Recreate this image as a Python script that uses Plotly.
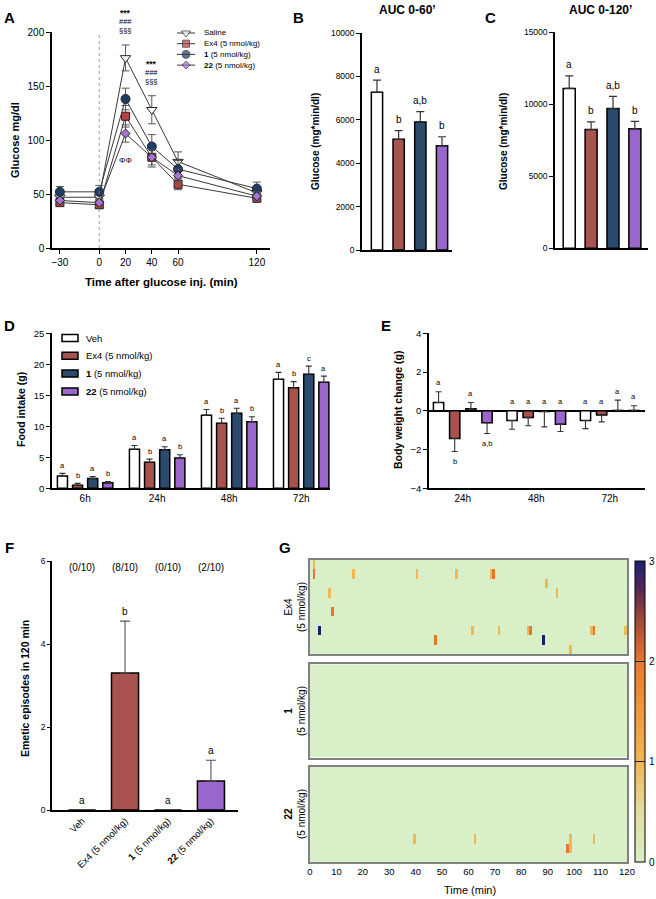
import plotly.graph_objects as go

W, H = 656, 899
def px(x): return x / W
def py(y): return 1 - y / H

FONT = "Liberation Sans, Arial, sans-serif"

# ---------------- Panel A: glucose tolerance ----------------
time_min = [-30, 0, 20, 40, 60, 120]
glu_saline = [47, 47, 176, 128, 80, 51]
glu_saline_err = [4, 4, 12, 13, 9, 5]
glu_ex4 = [42, 40, 122, 84, 59, 46]
glu_ex4_err = [3, 3, 10, 9, 5, 3]
glu_c1 = [52, 52, 138, 94, 73, 55]
glu_c1_err = [5, 6, 10, 11, 8, 6]
glu_c22 = [44, 42, 106, 84, 67, 48]
glu_c22_err = [3, 3, 8, 7, 6, 4]

# ---------------- Panels B, C: AUC ----------------
auc60 = [7270, 5100, 5900, 4800]
auc60_err = [560, 400, 480, 420]
auc120 = [11100, 8250, 9700, 8300]
auc120_err = [870, 530, 850, 520]
auc_letters = ["a", "b", "a,b", "b"]

# ---------------- Panel D: food intake ----------------
food_times = ["6h", "24h", "48h", "72h"]
food_veh = [2.0, 6.3, 11.8, 17.6]
food_veh_err = [0.4, 0.6, 0.9, 1.1]
food_ex4 = [0.5, 4.2, 10.5, 16.2]
food_ex4_err = [0.3, 0.5, 0.8, 1.0]
food_c1 = [1.6, 6.2, 12.1, 18.4]
food_c1_err = [0.3, 0.5, 0.8, 1.3]
food_c22 = [0.9, 4.9, 10.75, 17.1]
food_c22_err = [0.2, 0.5, 0.8, 1.0]
food_letters = [["a", "a", "a", "a"], ["b", "b", "b", "b"],
                ["a", "a", "a", "c"], ["b", "b", "b", "a"]]

# ---------------- Panel E: body weight change ----------------
bw_times = ["24h", "48h", "72h"]
bw_veh = [0.43, -0.5, -0.5]
bw_veh_err = [0.55, 0.45, 0.42]
bw_ex4 = [-1.43, -0.35, -0.22]
bw_ex4_err = [0.67, 0.42, 0.35]
bw_c1 = [0.1, -0.03, 0.02]
bw_c1_err = [0.33, 0.8, 0.53]
bw_c22 = [-0.62, -0.7, 0.02]
bw_c22_err = [0.55, 0.37, 0.24]
bw_letters = [["a", "a", "a"], ["b", "a", "a"], ["a", "a", "a"], ["a,b", "a", "a"]]
bw_letter_below = [[False, False, False], [True, False, False],
                   [False, False, False], [True, False, False]]

# ---------------- Panel F: emesis ----------------
emesis_labels = ["Veh", "Ex4 (5 nmol/kg)", "<b>1</b> (5 nmol/kg)", "<b>22</b> (5 nmol/kg)"]
emesis = [0, 3.3, 0, 0.7]
emesis_err = [0, 1.25, 0, 0.5]
emesis_resp = ["(0/10)", "(8/10)", "(0/10)", "(2/10)"]
emesis_letters = ["a", "b", "a", "a"]

# ---------------- Panel G: emetic episodes heatmap ----------------
n_animals = 10
n_minutes = 120
# (animal row, minute, episodes)
ex4_events = [(0, 1, 1), (1, 1, 2), (1, 16, 1), (1, 40, 1), (1, 55, 1), (1, 68, 1), (1, 69, 2),
              (2, 89, 1), (3, 7, 1), (3, 93, 1), (5, 8, 2),
              (7, 3, 3), (7, 61, 1), (7, 71, 1), (7, 82, 1), (7, 83, 2), (7, 106, 1), (7, 107, 2),
              (7, 119, 1), (8, 47, 2), (8, 88, 3), (9, 98, 1)]
c1_events = []
c22_events = [(7, 39, 1), (7, 62, 1), (7, 98, 1), (7, 107, 1), (8, 97, 2), (8, 98, 1)]
cbar_ticks = [0, 1, 2, 3]

group_names = ["Saline", "Ex4 (5 nmol/kg)", "<b>1</b> (5 nmol/kg)", "<b>22</b> (5 nmol/kg)"]
veh_names = ["Veh", "Ex4 (5 nmol/kg)", "<b>1</b> (5 nmol/kg)", "<b>22</b> (5 nmol/kg)"]
COL = ["#ffffff", "#a8534f", "#2b4b6e", "#9a66cc"]
ACOL = ["#ffffff", "#b5443f", "#1f3c66", "#a773d6"]

fig = go.Figure()

def axis(**kw):
    d = dict(showline=True, linecolor="black", linewidth=1.5, ticks="outside", ticklen=4,
             tickwidth=1.2, tickcolor="black", showgrid=False, zeroline=False, automargin=False,
             tickfont=dict(size=10, color="black", family=FONT), fixedrange=True)
    d.update(kw)
    return d

annotations = []
def note(text, x, y, xref="paper", yref="paper", size=10, bold=False, angle=0, yshift=0,
         xanchor="center", yanchor="middle"):
    annotations.append(dict(text=f"<b>{text}</b>" if bold else text, x=x, y=y, xref=xref, yref=yref,
                            showarrow=False, textangle=angle, yshift=yshift,
                            xanchor=xanchor, yanchor=yanchor,
                            font=dict(size=size, family=FONT, color="black")))

shapes = []

# ---- A traces
a_series = [(glu_saline, glu_saline_err, "triangle-down", 9),
            (glu_ex4, glu_ex4_err, "square", 8),
            (glu_c1, glu_c1_err, "circle", 9),
            (glu_c22, glu_c22_err, "diamond", 7)]
for i, (vals, errs, sym, sz) in enumerate(a_series):
    fig.add_trace(go.Scatter(
        x=time_min, y=vals, name=group_names[i], mode="lines+markers", showlegend=False,
        line=dict(color="#3a3a3a", width=1),
        marker=dict(symbol=sym, size=sz, color=ACOL[i], line=dict(color="#222", width=1)),
        error_y=dict(type="data", array=errs, color="#555", thickness=1, width=4),
        xaxis="x", yaxis="y"))
    # legend glyph (hidden pixel-space axis)
    ly = 33 + 10.7 * i
    fig.add_trace(go.Scatter(
        x=[177, 186, 195], y=[ly, ly, ly], mode="lines+markers", showlegend=False,
        line=dict(color="#3a3a3a", width=1), hoverinfo="skip",
        marker=dict(symbol=sym, size=[0, sz - 1, 0], color=ACOL[i], line=dict(color="#222", width=1)),
        xaxis="x10", yaxis="y10"))
    note(group_names[i], 202, ly, size=8, xanchor="left")

# significance marks
i20 = time_min.index(20)
i40 = time_min.index(40)
for idx in (i20, i40):
    top = glu_saline[idx] + glu_saline_err[idx]
    note("***", time_min[idx], top, "x", "y", size=8.5, bold=True, yshift=32)
    note("###", time_min[idx], top, "x", "y", size=7.5, yshift=23)
    note("§§§", time_min[idx], top, "x", "y", size=7.5, yshift=14)
note("ΦΦ", time_min[i20], glu_c22[i20] - glu_c22_err[i20], "x", "y", size=8, yshift=-18)

# ---- B and C
bar_line = dict(color="black", width=1.5)
for vals, errs, xa, ya, wd in [(auc60, auc60_err, "x2", "y2", 0.52),
                               (auc120, auc120_err, "x3", "y3", 0.55)]:
    xs = list(range(len(vals)))
    fig.add_trace(go.Bar(x=xs, y=vals, width=wd, marker=dict(color=COL, line=bar_line),
                         error_y=dict(type="data", array=errs, arrayminus=[0] * 4, symmetric=False,
                                      color="#333", thickness=1.2, width=4),
                         showlegend=False, xaxis=xa, yaxis=ya))
    for i in xs:
        note(auc_letters[i], i, vals[i] + errs[i], xa, ya, size=10, yshift=11)

# ---- D
d_series = [(food_veh, food_veh_err), (food_ex4, food_ex4_err),
            (food_c1, food_c1_err), (food_c22, food_c22_err)]
for j, (vals, errs) in enumerate(d_series):
    xs = [g + (j - 1.5) * 0.21 for g in range(len(food_times))]
    fig.add_trace(go.Bar(x=xs, y=vals, width=0.14, name=veh_names[j], showlegend=False,
                         marker=dict(color=COL[j], line=bar_line),
                         error_y=dict(type="data", array=errs, arrayminus=[0] * 4, symmetric=False,
                                      color="#333", thickness=1.1, width=3),
                         xaxis="x4", yaxis="y4"))
    for g in range(len(food_times)):
        note(food_letters[j][g], xs[g], vals[g] + errs[g], "x4", "y4", size=7.5, yshift=8)
    # legend glyph
    ly = 338 + 17.8 * j
    shapes.append(dict(type="rect", xref="paper", yref="paper", x0=px(62), x1=px(78),
                       y0=py(ly + 3.5), y1=py(ly - 3.5), fillcolor=COL[j],
                       line=dict(color="black", width=1.5)))
    note(veh_names[j], 84, ly, size=9.5, xanchor="left")

# ---- E
e_series = [(bw_veh, bw_veh_err), (bw_ex4, bw_ex4_err), (bw_c1, bw_c1_err), (bw_c22, bw_c22_err)]
for j, (vals, errs) in enumerate(e_series):
    xs = [g + (j - 1.5) * 0.22 for g in range(len(bw_times))]
    up = [e if v >= 0 else 0 for v, e in zip(vals, errs)]
    dn = [e if v < 0 else 0 for v, e in zip(vals, errs)]
    fig.add_trace(go.Bar(x=xs, y=vals, width=0.14, marker=dict(color=COL[j], line=bar_line),
                         error_y=dict(type="data", array=up, arrayminus=dn, symmetric=False,
                                      color="#333", thickness=1.1, width=3),
                         showlegend=False, xaxis="x5", yaxis="y5"))
    for g in range(len(bw_times)):
        if bw_letter_below[j][g]:
            note(bw_letters[j][g], xs[g], vals[g] - errs[g], "x5", "y5", size=7.5, yshift=-10)
        else:
            note(bw_letters[j][g], xs[g], max(0, vals[g] + up[g]), "x5", "y5", size=7.5, yshift=9)

# ---- F
xs = list(range(len(emesis)))
fig.add_trace(go.Bar(x=xs, y=emesis, width=0.63, marker=dict(color=COL, line=bar_line),
                     error_y=dict(type="data", array=emesis_err, arrayminus=[0] * 4, symmetric=False,
                                  color="#555", thickness=1.1, width=5),
                     showlegend=False, xaxis="x6", yaxis="y6"))
for i in xs:
    note(emesis_letters[i], i, emesis[i] + emesis_err[i], "x6", "y6", size=10, yshift=10)
    note(emesis_resp[i], i, 6, "x6", "y6", size=10, yshift=-6)

# ---- G heatmaps
cscale = [[0, "#d8efc8"], [0.17, "#e3dc9f"], [0.333, "#f2b653"], [0.5, "#ee9a3c"],
          [0.667, "#e8772e"], [0.8, "#a24a35"], [0.9, "#5b2a55"], [1, "#1b1f72"]]

def build(events):
    z = [[0] * n_minutes for _ in range(n_animals)]
    for r, m, v in events:
        z[r][m] = v
    return z

CB_TOP, CB_BOT = 561, 862
for k, (events, xa, ya) in enumerate([(ex4_events, "x7", "y7"), (c1_events, "x8", "y8"),
                                      (c22_events, "x9", "y9")]):
    fig.add_trace(go.Heatmap(
        z=build(events), x0=0.5, dx=1, y0=0, dy=1, zmin=0, zmax=3, colorscale=cscale,
        showscale=(k == 0), xaxis=xa, yaxis=ya, hoverinfo="skip",
        colorbar=dict(x=px(635), xanchor="left", y=py(CB_BOT), yanchor="bottom",
                      len=(CB_BOT - CB_TOP) / H, lenmode="fraction", thickness=10,
                      outlinewidth=1, outlinecolor="black", tickvals=cbar_ticks,
                      ticks="inside", ticklen=10, tickcolor="#222", xpad=0, ypad=0,
                      showticklabels=False)))
for t in cbar_ticks:
    note(str(t), 647, CB_BOT - t * (CB_BOT - CB_TOP) / cbar_ticks[-1], size=10, xanchor="left")

layout = dict(
    width=W, height=H, margin=dict(l=0, r=0, t=0, b=0, pad=0, autoexpand=False),
    paper_bgcolor="white", plot_bgcolor="white",
    font=dict(family=FONT, color="black"),
    barmode="overlay", showlegend=False,
    xaxis=axis(domain=[px(52), px(270)], range=[-36, 130], tickvals=time_min, anchor="y"),
    yaxis=axis(domain=[py(248), py(32)], range=[0, 200], tickvals=[0, 50, 100, 150, 200], anchor="x"),
    xaxis2=axis(domain=[px(362), px(452)], range=[-0.69, 3.46], ticks="", showticklabels=False, anchor="y2"),
    yaxis2=axis(domain=[py(250), py(33)], range=[0, 10000], tickvals=[0, 2000, 4000, 6000, 8000, 10000],
                tickformat="d", tickfont=dict(size=8.5, family=FONT, color="black"), anchor="x2"),
    xaxis3=axis(domain=[px(555), px(648)], range=[-0.65, 3.6], ticks="", showticklabels=False, anchor="y3"),
    yaxis3=axis(domain=[py(248.3), py(32.3)], range=[0, 15000], tickvals=[0, 5000, 10000, 15000],
                tickformat="d", tickfont=dict(size=8.5, family=FONT, color="black"), anchor="x3"),
    xaxis4=axis(domain=[px(52), px(330)], range=[-0.46, 3.4], ticks="", tickvals=[0, 1, 2, 3],
                ticktext=food_times, anchor="y4"),
    yaxis4=axis(domain=[py(488.3), py(333.3)], range=[0, 25], tickvals=[0, 5, 10, 15, 20, 25],
                tickfont=dict(size=9.5, family=FONT, color="black"), anchor="x4"),
    xaxis5=axis(domain=[px(429), px(645)], range=[-0.46, 2.48], ticks="", tickvals=[0, 1, 2],
                ticktext=bw_times, anchor="y5"),
    yaxis5=axis(domain=[py(488.3), py(333.3)], range=[-4, 4], tickvals=[-4, -2, 0, 2, 4],
                zeroline=True, zerolinecolor="black", zerolinewidth=1.5,
                tickfont=dict(size=9.5, family=FONT, color="black"), anchor="x5"),
    xaxis6=axis(domain=[px(52), px(238)], range=[-0.7, 3.63], ticks="", tickvals=xs,
                ticktext=emesis_labels, tickangle=-45, tickfont=dict(size=9.5, family=FONT, color="black"),
                anchor="y6"),
    yaxis6=axis(domain=[py(810), py(561)], range=[0, 6], tickvals=[0, 2, 4, 6], ticklen=3,
                tickfont=dict(size=8.5, family=FONT, color="black"), anchor="x6"),
    # hidden pixel-space axes for legend glyphs of panel A
    xaxis10=dict(domain=[px(170), px(200)], range=[170, 200], visible=False, fixedrange=True,
                 automargin=False, anchor="y10"),
    yaxis10=dict(domain=[py(75), py(25)], range=[75, 25], visible=False, fixedrange=True,
                 automargin=False, anchor="x10"),
)
gbox = dict(showline=True, mirror=True, linecolor="#808080", linewidth=1.5, showgrid=False,
            zeroline=False, fixedrange=True, ticks="", showticklabels=False, automargin=False)
for k, (top, bot) in enumerate([(560, 654.3), (664.3, 757.7), (766.7, 862.3)]):
    n = 7 + k
    xk = dict(gbox, domain=[px(310), px(627)], range=[0, 120], anchor=f"y{n}")
    if k == 2:
        xk.update(showticklabels=True, tickvals=list(range(0, 121, 10)),
                  tickfont=dict(size=9.5, family=FONT, color="black"))
    layout[f"xaxis{n}"] = xk
    layout[f"yaxis{n}"] = dict(gbox, domain=[py(bot), py(top)], range=[n_animals - 0.5, -0.5],
                               anchor=f"x{n}")

fig.update_layout(**layout)

# injection time reference line
shapes.append(dict(type="line", xref="x", yref="y domain", x0=time_min[1], x1=time_min[1], y0=0, y1=1,
                   line=dict(color="#888", width=0.8, dash="dot")))

# titles and panel labels
note("Glucose mg/dl", 15, 140, size=11, bold=True, angle=-90)
note("Time after glucose inj. (min)", 161, 282, size=11.5, bold=True)
note("AUC 0-60’", 407, 10, size=12, bold=True)
note("AUC 0-120’", 600, 10, size=12, bold=True)
note("Glucose (mg*min/dl)", 315, 142, size=10, bold=True, angle=-90)
note("Glucose (mg*min/dl)", 503, 142, size=10, bold=True, angle=-90)
note("Food intake (g)", 21, 410, size=10.5, bold=True, angle=-90)
note("Body weight change (g)", 398, 410, size=10.5, bold=True, angle=-90)
note("Emetic episodes in 120 min", 25, 689, size=10.5, bold=True, angle=-90)
note("Time (min)", 470, 890, size=11)
note("Ex4<br>(5 nmol/kg)", 295, 607, size=10, angle=-90)
note("<b>1</b><br>(5 nmol/kg)", 295, 711, size=10, angle=-90)
note("<b>22</b><br>(5 nmol/kg)", 295, 814, size=10, angle=-90)
for lab, x, y in [("A", 9, 18), ("B", 298, 18), ("C", 490, 18), ("D", 9, 325),
                  ("E", 386, 325), ("F", 9, 547), ("G", 285, 547)]:
    note(lab, x, y, size=15, bold=True)

# convert pixel-positioned notes to paper coords
for a in annotations:
    if a["xref"] == "paper":
        a["x"] = px(a["x"])
        a["y"] = py(a["y"])
fig.update_layout(annotations=annotations, shapes=shapes)

fig.write_html("out.html", config={"displayModeBar": False},
               post_script="document.body.style.margin='0px';document.body.style.overflow='hidden';")
